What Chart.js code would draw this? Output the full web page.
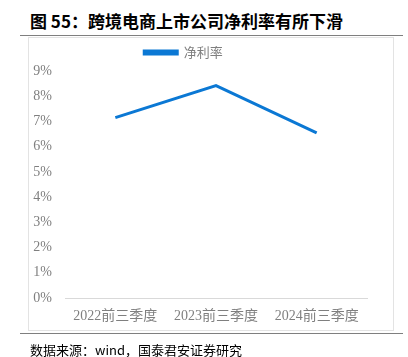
<!DOCTYPE html>
<html>
<head>
<meta charset="utf-8">
<script src="https://cdn.jsdelivr.net/npm/chart.js@4.4.1/dist/chart.umd.min.js"></script>
<style>
  html, body { margin: 0; padding: 0; background: #fff; }
  #wrap { position: relative; width: 408px; height: 357px; overflow: hidden; }
  #title { position: absolute; left: 30px; top: 8px; font: bold 17px "Noto Sans CJK SC", sans-serif; color: #000; white-space: nowrap; }
  .rule { position: absolute; left: 20px; width: 383px; height: 1px; background: #7f7f7f; }
  #box { position: absolute; left: 28px; top: 37px; width: 364px; height: 292px; border: 1px solid #e3e3e3; }
  #foot { position: absolute; left: 30px; top: 340px; font: 13px "Noto Sans CJK SC", sans-serif; color: #000; white-space: nowrap; }
  canvas { position: absolute; left: 0; top: 0; }
</style>
</head>
<body>
<div id="wrap">
  <div id="title">图 55：跨境电商上市公司净利率有所下滑</div>
  <div class="rule" style="top:35px"></div>
  <div id="box"></div>
  <canvas id="chart" width="408" height="357"></canvas>
  <div class="rule" style="top:333px"></div>
  <div id="foot">数据来源：wind，国泰君安证券研究</div>
</div>
<script>
const categories = ['2022前三季度', '2023前三季度', '2024前三季度']
const netMargin = [7.15, 8.42, 6.55]
const seriesName = '净利率'
const yTicks = [0, 1, 2, 3, 4, 5, 6, 7, 8, 9]

const gray = '#7f7f7f'
const tickFont = { family: '"Liberation Serif", "Noto Sans CJK SC", serif', size: 14 }

// legend sits a bit higher than the plot top, so pad the legend box
const legendGap = {
  id: 'legendGap',
  beforeInit(chart) {
    const fit = chart.legend.fit
    chart.legend.fit = function () {
      fit.bind(chart.legend)()
      this.height += 2
    }
  }
}

const chart = new Chart(document.getElementById('chart'), {
  type: 'line',
  data: {
    labels: categories,
    datasets: [{
      label: seriesName,
      data: netMargin,
      borderColor: '#0b78d4',
      backgroundColor: '#0b78d4',
      borderWidth: 3,
      pointRadius: 0,
      tension: 0
    }]
  },
  options: {
    responsive: false,
    animation: false,
    layout: { padding: { left: 0, right: 41, top: 36, bottom: 0 } },
    plugins: {
      legend: {
        display: true,
        labels: {
          boxWidth: 33,
          boxHeight: 3,
          padding: 10,
          color: gray,
          font: { family: '"Noto Sans CJK SC", sans-serif', size: 13 }
        }
      },
      tooltip: { enabled: false }
    },
    scales: {
      x: {
        offset: true,
        grid: { display: false, drawTicks: false },
        border: { display: true, color: '#d9d9d9', width: 1 },
        ticks: { color: gray, font: tickFont, padding: 10, maxRotation: 0 },
        afterFit: s => { s.height = 59 }
      },
      y: {
        min: 0,
        max: 9,
        afterBuildTicks: s => { s.ticks = yTicks.map(v => ({ value: v })) },
        grid: { display: false, drawTicks: false },
        border: { display: false },
        ticks: { color: gray, font: tickFont, padding: 13, callback: v => v + '%' },
        afterFit: s => { s.width = 65 }
      }
    }
  },
  plugins: [legendGap]
})
</script>
</body>
</html>
